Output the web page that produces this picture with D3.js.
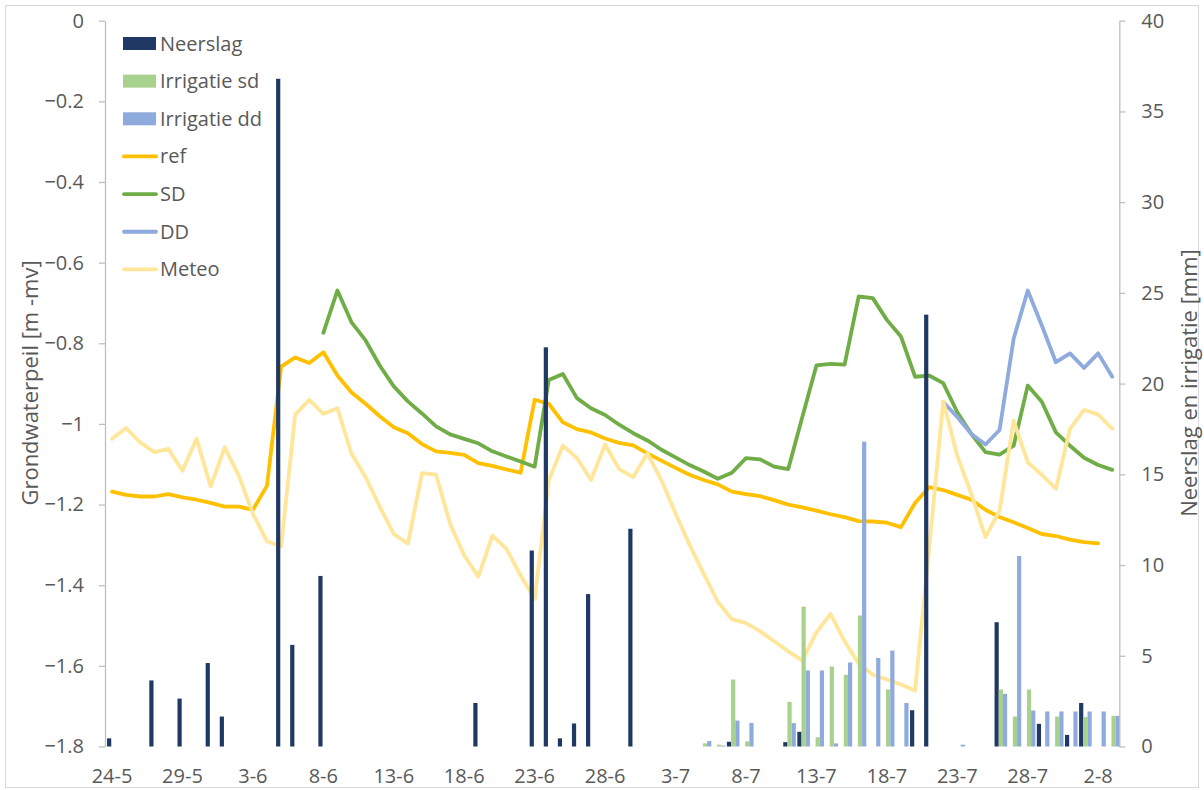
<!DOCTYPE html>
<html><head><meta charset="utf-8">
<script src="https://cdn.jsdelivr.net/npm/d3@7"></script>
<style>
body{margin:0;background:#fff}
svg{display:block}
text{font-family:"Open Sans",sans-serif;fill:#595959}
</style>
</head><body>
<svg id="chart" width="1204" height="790"></svg>
<script>
// ---- categories (days) ----
const dates = [
 "24-5","25-5","26-5","27-5","28-5","29-5","30-5","31-5",
 "1-6","2-6","3-6","4-6","5-6","6-6","7-6","8-6","9-6","10-6","11-6","12-6","13-6","14-6","15-6","16-6","17-6","18-6","19-6","20-6","21-6","22-6","23-6","24-6","25-6","26-6","27-6","28-6","29-6","30-6",
 "1-7","2-7","3-7","4-7","5-7","6-7","7-7","8-7","9-7","10-7","11-7","12-7","13-7","14-7","15-7","16-7","17-7","18-7","19-7","20-7","21-7","22-7","23-7","24-7","25-7","26-7","27-7","28-7","29-7","30-7","31-7",
 "1-8","2-8","3-8"
];
const xTickLabels = ["24-5","29-5","3-6","8-6","13-6","18-6","23-6","28-6","3-7","8-7","13-7","18-7","23-7","28-7","2-8"];
const leftTicks = [0,-0.2,-0.4,-0.6,-0.8,-1,-1.2,-1.4,-1.6,-1.8];
const rightTicks = [0,5,10,15,20,25,30,35,40];

// ---- bar series (mm, right axis) ----
const neerslag = [0.45,0,0,3.64,0,2.64,0,4.6,1.65,0,
 0,0,36.8,5.6,0,9.4,0,0,0,0,
 0,0,0,0,0,0,2.4,0,0,0,
 10.8,22.0,0.45,1.27,8.4,0,0,12.0,0,0,
 0,0,0,0,0.26,0,0,0,0.24,0.81,
 0,0,0,0,0,0,0,2.0,23.8,0,
 0,0,0,6.85,0,0,1.25,0,0.64,2.4,
 0,0];
const irrigatieSd = [0,0,0,0,0,0,0,0,0,0,
 0,0,0,0,0,0,0,0,0,0,
 0,0,0,0,0,0,0,0,0,0,
 0,0,0,0,0,0,0,0,0,0,
 0,0,0.17,0.1,3.69,0.28,0,0,2.46,7.71,
 0.51,4.41,3.95,7.22,0,3.14,0,0,0,0,
 0,0,0,3.14,1.65,3.14,0,1.65,0,1.62,
 0,1.69];
const irrigatieDd = [0,0,0,0,0,0,0,0,0,0,
 0,0,0,0,0,0,0,0,0,0,
 0,0,0,0,0,0,0,0,0,0,
 0,0,0,0,0,0,0,0,0,0,
 0,0,0.3,0.05,1.43,1.3,0,0,1.29,4.19,
 4.19,0.17,4.63,16.8,4.88,5.29,2.4,0,0,0,
 0.1,0,0,2.9,10.5,1.98,1.93,1.93,1.93,1.93,
 1.93,1.69];

// ---- line series (m -mv, left axis) ----
const ref = [-1.168,-1.176,-1.180,-1.180,-1.174,-1.182,-1.188,-1.196,-1.205,-1.205,
 -1.213,-1.153,-0.858,-0.835,-0.849,-0.822,-0.880,-0.922,-0.950,-0.981,
 -1.008,-1.023,-1.050,-1.068,-1.072,-1.077,-1.097,-1.104,-1.113,-1.121,
 -0.940,-0.950,-0.996,-1.013,-1.021,-1.036,-1.047,-1.053,-1.073,-1.091,
 -1.109,-1.126,-1.139,-1.150,-1.168,-1.174,-1.179,-1.189,-1.200,-1.207,
 -1.215,-1.224,-1.231,-1.241,-1.242,-1.245,-1.256,-1.196,-1.157,-1.164,
 -1.176,-1.188,-1.213,-1.231,-1.244,-1.258,-1.273,-1.278,-1.287,-1.293,
 -1.296,null];
const sd = [null,null,null,null,null,null,null,null,null,null,
 null,null,null,null,null,-0.774,-0.669,-0.748,-0.793,-0.855,
 -0.907,-0.944,-0.974,-1.006,-1.026,-1.037,-1.048,-1.068,-1.081,-1.093,
 -1.106,-0.891,-0.876,-0.936,-0.961,-0.978,-1.002,-1.023,-1.041,-1.064,
 -1.083,-1.102,-1.118,-1.136,-1.121,-1.085,-1.088,-1.106,-1.112,-0.983,
 -0.855,-0.851,-0.853,-0.684,-0.688,-0.742,-0.783,-0.883,-0.880,-0.899,
 -0.971,-1.025,-1.070,-1.076,-1.054,-0.905,-0.945,-1.021,-1.054,-1.084,
 -1.102,-1.114];
const dd = [null,null,null,null,null,null,null,null,null,null,
 null,null,null,null,null,null,null,null,null,null,
 null,null,null,null,null,null,null,null,null,null,
 null,null,null,null,null,null,null,null,null,null,
 null,null,null,null,null,null,null,null,null,null,
 null,null,null,null,null,null,null,null,null,-0.946,
 -0.983,-1.025,-1.051,-1.015,-0.789,-0.669,-0.756,-0.847,-0.825,-0.861,
 -0.825,-0.883];
const meteo = [-1.037,-1.010,-1.046,-1.070,-1.062,-1.116,-1.037,-1.155,-1.058,-1.128,
 -1.223,-1.291,-1.304,-0.977,-0.940,-0.975,-0.961,-1.074,-1.132,-1.205,
 -1.273,-1.297,-1.122,-1.126,-1.248,-1.326,-1.379,-1.277,-1.310,-1.376,
 -1.434,-1.140,-1.054,-1.085,-1.139,-1.051,-1.112,-1.132,-1.073,-1.140,
 -1.222,-1.300,-1.372,-1.441,-1.484,-1.494,-1.514,-1.539,-1.564,-1.587,
 -1.517,-1.471,-1.539,-1.595,-1.622,-1.634,-1.646,-1.661,-1.310,-0.944,
 -1.079,-1.174,-1.281,-1.215,-0.992,-1.095,-1.126,-1.161,-1.012,-0.965,
 -0.977,-1.012];

const barSeries = [
  {name:"Neerslag", values:neerslag, color:"#203864"},
  {name:"Irrigatie sd", values:irrigatieSd, color:"#A9D18E"},
  {name:"Irrigatie dd", values:irrigatieDd, color:"#8FAADC"}
];
const lineSeries = [
  {name:"ref", values:ref, color:"#FFC000"},
  {name:"SD", values:sd, color:"#70AD47"},
  {name:"DD", values:dd, color:"#8FAADC"},
  {name:"Meteo", values:meteo, color:"#FFE699"}
];

// ---- layout ----
const L = 105, R = 1119.3, T = 20.7, B = 746.5;
const svg = d3.select("#chart");

svg.append("rect").attr("x",5.5).attr("y",5.5).attr("width",1193).attr("height",782)
  .attr("fill","#fff").attr("stroke","#d9d9d9").attr("stroke-width",1);

const x = d3.scaleBand().domain(d3.range(dates.length)).range([L,R]).paddingInner(0).paddingOuter(0);
const cx = i => x(i) + x.bandwidth()/2;
const yL = d3.scaleLinear().domain([-1.8,0]).range([B,T]);
const yR = d3.scaleLinear().domain([0,40]).range([B,T]);
const inner = d3.scaleBand().domain(barSeries.map(s=>s.name)).range([-5,7.6]).padding(0);

// lines
const line = d3.line().defined(d=>d!=null).x((d,i)=>cx(i)).y(d=>yL(d));
const gLines = svg.append("g");
lineSeries.forEach(s=>{
  gLines.append("path").datum(s.values)
    .attr("d",line).attr("fill","none").attr("stroke",s.color)
    .attr("stroke-width",3.8).attr("stroke-linejoin","round").attr("stroke-linecap","round");
});

// bars
const gBars = svg.append("g");
barSeries.forEach(s=>{
  gBars.selectAll(null).data(s.values.map((v,i)=>({v,i})).filter(d=>d.v>0))
    .enter().append("rect")
    .attr("x",d=>cx(d.i)+inner(s.name))
    .attr("width",inner.bandwidth())
    .attr("y",d=>yR(d.v))
    .attr("height",d=>B-yR(d.v))
    .attr("fill",s.color);
});

// axes
const fmtL = d => d===0 ? "0" : d3.format("")(+d.toFixed(1));
const axL = svg.append("g").attr("transform",`translate(${L},0)`)
  .call(d3.axisLeft(yL).tickValues(leftTicks).tickSize(6).tickSizeOuter(0).tickPadding(15).tickFormat(fmtL));
const axR = svg.append("g").attr("transform",`translate(${R},0)`)
  .call(d3.axisRight(yR).tickValues(rightTicks).tickSize(6).tickSizeOuter(0).tickPadding(16));
[axL,axR].forEach(a=>{
  a.select(".domain").attr("stroke","#bfbfbf").attr("stroke-width",1.3);
  a.selectAll(".tick line").attr("stroke","#bfbfbf").attr("stroke-width",1.3);
  a.selectAll(".tick text").attr("font-size",20).style("font-family",'"Open Sans",sans-serif').attr("fill","#595959");
});

// x labels
const labIdx = xTickLabels.map(l=>dates.indexOf(l));
svg.append("g").selectAll("text").data(labIdx).enter().append("text")
  .attr("x",i=>cx(i)).attr("y",783).attr("text-anchor","middle")
  .attr("font-size",20).text(i=>dates[i]);

// axis titles
svg.append("text").attr("transform",`translate(30,383) rotate(-90)`)
  .attr("text-anchor","middle").attr("dy","0.35em").attr("font-size",22)
  .text("Grondwaterpeil [m -mv]");
svg.append("text").attr("transform",`translate(1189,383) rotate(-90)`)
  .attr("text-anchor","middle").attr("dy","0.35em").attr("font-size",22)
  .text("Neerslag en irrigatie [mm]");

// legend
const leg = svg.append("g");
const items = barSeries.map(s=>({...s,type:"bar"})).concat(lineSeries.map(s=>({...s,type:"line"})));
items.forEach((s,k)=>{
  const yy = 43.5 + k*37.65;
  if(s.type==="bar"){
    leg.append("rect").attr("x",123).attr("y",yy-6.5).attr("width",33).attr("height",13).attr("fill",s.color);
  } else {
    leg.append("line").attr("x1",124).attr("x2",156).attr("y1",yy).attr("y2",yy)
      .attr("stroke",s.color).attr("stroke-width",3.8).attr("stroke-linecap","round");
  }
  leg.append("text").attr("x",160).attr("y",yy).attr("dy","0.35em").attr("font-size",20).text(s.name);
});
</script>
</body></html>
